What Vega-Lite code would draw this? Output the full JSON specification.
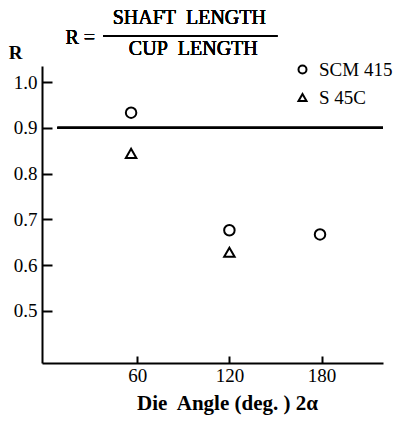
{
  "$schema": "https://vega.github.io/schema/vega-lite/v6.json",
  "width": 341,
  "height": 297,
  "autosize": "none",
  "padding": {"left": 42, "top": 66, "right": 16, "bottom": 68},
  "background": "white",
  "config": {
    "view": {"stroke": null},
    "font": "Liberation Serif",
    "axis": {
      "domainColor": "black",
      "domainWidth": 2,
      "tickColor": "black",
      "tickWidth": 2,
      "grid": false,
      "labelColor": "black",
      "labelFont": "Liberation Serif",
      "labelFontSize": 19,
      "titleColor": "black",
      "titleFont": "Liberation Serif"
    },
    "legend": {"padding": 0}
  },
  "resolve": {"axis": {"x": "independent", "y": "independent"}},
  "data": {
    "values": [
      {"angle": 56, "R": 0.933, "steel": "SCM 415"},
      {"angle": 120, "R": 0.676, "steel": "SCM 415"},
      {"angle": 179, "R": 0.667, "steel": "SCM 415"},
      {"angle": 56, "R": 0.844, "steel": "S 45C"},
      {"angle": 120, "R": 0.628, "steel": "S 45C"}
    ]
  },
  "layer": [
    {
      "mark": {"type": "point", "filled": false, "color": "black", "strokeWidth": 2, "size": 110, "opacity": 1},
      "encoding": {
        "x": {
          "field": "angle",
          "type": "quantitative",
          "scale": {"domain": [-2, 220], "nice": false, "zero": false},
          "axis": {
            "values": [60, 120, 180],
            "ticks": false,
            "labelPadding": 3,
            "title": "Die\u00a0 Angle (deg. ) 2α",
            "titleFontSize": 21,
            "titleFontWeight": "bold",
            "titlePadding": 7,
            "titleX": 185
          }
        },
        "y": {
          "field": "R",
          "type": "quantitative",
          "scale": {"domain": [0.386, 1.035], "nice": false, "zero": false},
          "axis": {
            "values": [0.5, 0.6, 0.7, 0.8, 0.9, 1.0],
            "format": ".1f",
            "ticks": false,
            "labelPadding": 5,
            "title": "R",
            "titleAngle": 0,
            "titleFontSize": 19,
            "titleFontWeight": "bold",
            "titleX": -27,
            "titleY": -14,
            "titleAlign": "center",
            "titleBaseline": "middle"
          }
        },
        "shape": {
          "field": "steel",
          "type": "nominal",
          "scale": {"domain": ["SCM 415", "S 45C"], "range": ["circle", "triangle-up"]},
          "legend": {
            "title": null,
            "orient": "none",
            "legendX": 251,
            "legendY": -6,
            "symbolSize": 64,
            "symbolStrokeWidth": 2,
            "symbolStrokeColor": "black",
            "symbolFillColor": "transparent",
            "labelFont": "Liberation Serif",
            "labelFontSize": 19,
            "labelColor": "black",
            "labelOffset": 7,
            "rowPadding": 8
          }
        }
      }
    },
    {
      "mark": {"type": "rule", "color": "black", "strokeWidth": 2},
      "encoding": {
        "x": {
          "datum": 8,
          "type": "quantitative",
          "axis": {"orient": "top", "offset": -297, "values": [60, 120, 180], "ticks": true, "tickSize": 7, "tickColor": "black", "tickWidth": 2, "labels": false, "domain": false, "title": null}
        },
        "x2": {"datum": 220},
        "y": {
          "datum": 0.9,
          "type": "quantitative",
          "axis": {"orient": "right", "offset": -341, "values": [0.5, 0.6, 0.7, 0.8, 0.9, 1.0], "ticks": true, "tickSize": 10, "tickColor": "black", "tickWidth": 2, "labels": false, "domain": false, "title": null}
        }
      }
    },
    {
      "mark": {"type": "rule", "color": "black", "strokeWidth": 1.5},
      "encoding": {
        "x": {"datum": 37.8, "type": "quantitative", "axis": null},
        "x2": {"datum": 151.3},
        "y": {"datum": 1.1006, "type": "quantitative", "axis": null}
      }
    },
    {
      "mark": {"type": "text", "text": "SHAFT\u00a0 LENGTH", "font": "Liberation Serif", "fontSize": 20, "fontWeight": "normal", "align": "center", "baseline": "middle", "color": "black"},
      "encoding": {
        "x": {"datum": 93.9, "type": "quantitative", "axis": null},
        "y": {"datum": 1.140, "type": "quantitative", "axis": null}
      }
    },
    {
      "mark": {"type": "text", "text": "CUP\u00a0 LENGTH", "font": "Liberation Serif", "fontSize": 20, "fontWeight": "normal", "align": "center", "baseline": "middle", "color": "black"},
      "encoding": {
        "x": {"datum": 96.5, "type": "quantitative", "axis": null},
        "y": {"datum": 1.072, "type": "quantitative", "axis": null}
      }
    },
    {
      "mark": {"type": "text", "text": "R =", "font": "Liberation Serif", "fontSize": 20, "fontWeight": "normal", "align": "right", "baseline": "middle", "color": "black"},
      "encoding": {
        "x": {"datum": 32.6, "type": "quantitative", "axis": null},
        "y": {"datum": 1.096, "type": "quantitative", "axis": null}
      }
    }
  ]
}
